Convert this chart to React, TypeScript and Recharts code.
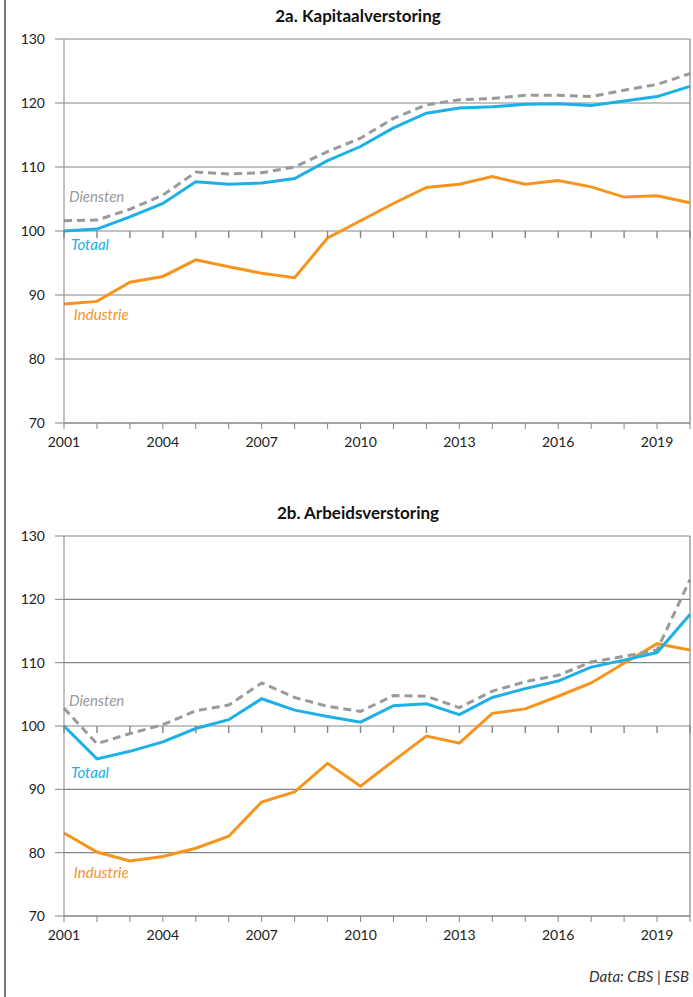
import React from 'react'
import {
  ComposedChart, Line, Scatter, XAxis, YAxis, CartesianGrid, ReferenceLine, ReferenceDot
} from 'recharts'

const years = [
  2001, 2002, 2003, 2004, 2005, 2006, 2007, 2008, 2009, 2010,
  2011, 2012, 2013, 2014, 2015, 2016, 2017, 2018, 2019, 2020,
]
const tickLabels = ['2001', '2004', '2007', '2010', '2013', '2016', '2019']
const yTicks = [70, 80, 90, 100, 110, 120, 130]
const baseLevel = 100

// 2a. Kapitaalverstoring
const kapDiensten = [
  101.6, 101.7, 103.4, 105.6, 109.2, 108.9, 109.1, 110.0, 112.4, 114.5,
  117.6, 119.7, 120.5, 120.7, 121.2, 121.2, 121.0, 122.0, 122.9, 124.6,
]
const kapTotaal = [
  100.0, 100.3, 102.2, 104.3, 107.7, 107.3, 107.5, 108.2, 111.0, 113.2,
  116.1, 118.4, 119.2, 119.4, 119.8, 119.9, 119.6, 120.3, 121.0, 122.6,
]
const kapIndustrie = [
  88.6, 89.0, 92.0, 92.9, 95.5, 94.4, 93.4, 92.7, 98.9, 101.6,
  104.3, 106.8, 107.3, 108.5, 107.3, 107.9, 106.9, 105.3, 105.5, 104.4,
]

// 2b. Arbeidsverstoring
const arbDiensten = [
  102.8, 97.2, 98.8, 100.2, 102.4, 103.3, 106.8, 104.5, 103.1, 102.3,
  104.8, 104.7, 102.9, 105.5, 107.0, 108.0, 110.1, 111.0, 112.0, 123.1,
]
const arbTotaal = [
  100.0, 94.8, 96.0, 97.5, 99.6, 101.0, 104.3, 102.5, 101.5, 100.6,
  103.2, 103.5, 101.8, 104.5, 105.9, 107.1, 109.3, 110.4, 111.6, 117.6,
]
const arbIndustrie = [
  83.1, 80.1, 78.7, 79.4, 80.7, 82.6, 88.0, 89.6, 94.1, 90.5,
  94.5, 98.4, 97.3, 102.0, 102.7, 104.7, 106.8, 109.9, 113.0, 112.0,
]

const BLUE = '#1cb0e6'
const ORANGE = '#f7941d'
const GREY = '#9a9a9a'
const AXIS = '#858585'
const FONT = 'Lato, "Open Sans", sans-serif'

type LabelPos = { x: number; y: number }

interface PanelProps {
  title: string
  top: number
  plotHeight: number
  diensten: number[]
  totaal: number[]
  industrie: number[]
  labels: { diensten: LabelPos; totaal: LabelPos; industrie: LabelPos }
}

const seriesLabel = (text: string, color: string) => (props: any) => {
  const { viewBox } = props
  return (
    <text
      x={viewBox.x}
      y={viewBox.y + viewBox.height / 2}
      dominantBaseline="central"
      fill={color}
      fontStyle="italic"
      fontSize={15}
      fontFamily={FONT}
    >
      {text}
    </text>
  )
}

// small tick mark hanging below the 100 line
const midTick = (p: any) => (
  <line x1={p.cx} y1={p.cy} x2={p.cx} y2={p.cy + 7} stroke={AXIS} strokeWidth={1.4} />
)

function Panel({ title, top, plotHeight, diensten, totaal, industrie, labels }: PanelProps) {
  const data = years.map((year, i) => ({
    year,
    base: baseLevel,
    Diensten: diensten[i],
    Totaal: totaal[i],
    Industrie: industrie[i],
  }))
  const marginTop = 39
  const height = marginTop + plotHeight + 30 + 7

  return (
    <div style={{ position: 'absolute', left: 0, top, width: 693, height }}>
      <div
        style={{
          position: 'absolute', left: 238, top: 5, width: 240, textAlign: 'center',
          fontFamily: FONT, fontWeight: 700, fontSize: 17, color: '#111',
        }}
      >
        {title}
      </div>
      <ComposedChart
        width={693}
        height={height}
        data={data}
        margin={{ top: marginTop, right: 3, left: 0, bottom: 7 }}
      >
        <CartesianGrid vertical={false} stroke={AXIS} strokeWidth={1.2} />
        <XAxis
          dataKey="year"
          type="number"
          domain={[2001, 2020]}
          ticks={years}
          interval={0}
          height={30}
          tickSize={6}
          tickMargin={8}
          stroke={AXIS}
          tick={{ fill: '#222', fontSize: 14, fontFamily: FONT }}
          tickFormatter={(v) => (tickLabels.includes(String(v)) ? String(v) : '')}
        />
        <YAxis
          domain={[70, 130]}
          ticks={yTicks}
          width={64}
          tickSize={9}
          tickMargin={10}
          stroke={AXIS}
          tick={{ fill: '#222', fontSize: 14, fontFamily: FONT }}
        />
        <ReferenceLine x={2020} stroke={AXIS} strokeWidth={1.2} />
        <Scatter dataKey="base" shape={midTick} isAnimationActive={false} />
        <Line dataKey="Industrie" stroke={ORANGE} strokeWidth={3} dot={false} isAnimationActive={false} />
        <Line
          dataKey="Diensten" stroke={GREY} strokeWidth={3} strokeDasharray="8 5"
          dot={false} isAnimationActive={false}
        />
        <Line dataKey="Totaal" stroke={BLUE} strokeWidth={3} dot={false} isAnimationActive={false} />
        <ReferenceDot
          x={labels.diensten.x} y={labels.diensten.y} r={1} fill="none" stroke="none"
          label={seriesLabel('Diensten', GREY)}
        />
        <ReferenceDot
          x={labels.totaal.x} y={labels.totaal.y} r={1} fill="none" stroke="none"
          label={seriesLabel('Totaal', BLUE)}
        />
        <ReferenceDot
          x={labels.industrie.x} y={labels.industrie.y} r={1} fill="none" stroke="none"
          label={seriesLabel('Industrie', ORANGE)}
        />
      </ComposedChart>
    </div>
  )
}

export default function App() {
  return (
    <div
      style={{
        position: 'absolute', left: 0, top: 0, width: 693, height: 997,
        background: '#fff', overflow: 'hidden',
      }}
    >
      <div
        style={{
          position: 'absolute', left: 4, top: 0, width: 0, height: 997,
          borderLeft: '2px solid #777',
        }}
      />
      <Panel
        title="2a. Kapitaalverstoring"
        top={0}
        plotHeight={384}
        diensten={kapDiensten}
        totaal={kapTotaal}
        industrie={kapIndustrie}
        labels={{
          diensten: { x: 2001.18, y: 105.5 },
          totaal: { x: 2001.24, y: 98.0 },
          industrie: { x: 2001.33, y: 87.0 },
        }}
      />
      <Panel
        title="2b. Arbeidsverstoring"
        top={497}
        plotHeight={380}
        diensten={arbDiensten}
        totaal={arbTotaal}
        industrie={arbIndustrie}
        labels={{
          diensten: { x: 2001.18, y: 104.1 },
          totaal: { x: 2001.24, y: 92.7 },
          industrie: { x: 2001.33, y: 76.9 },
        }}
      />
      <div
        style={{
          position: 'absolute', right: 4, top: 967, fontFamily: FONT,
          fontStyle: 'italic', fontSize: 15, color: '#333',
        }}
      >
        Data: CBS | ESB
      </div>
    </div>
  )
}
